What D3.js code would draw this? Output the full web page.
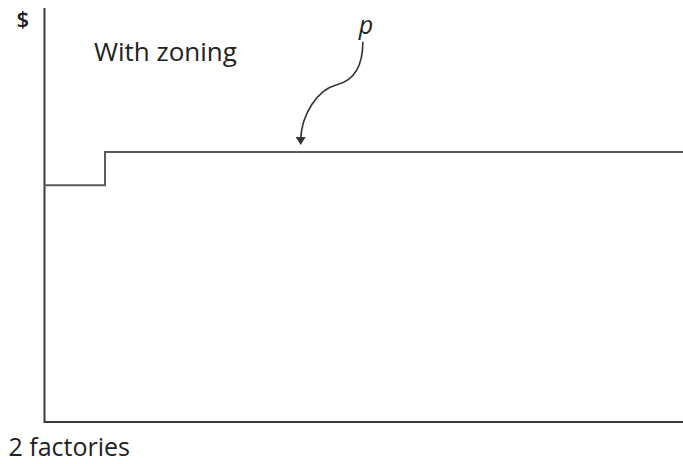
<!DOCTYPE html>
<meta charset="utf-8">
<style>
body { margin:0; background:#fff; font-family:"Open Sans", Arial, sans-serif; }
.axis { fill:none; stroke:#3a3a3a; stroke-width:2px; }
.step { fill:none; stroke:#5a5a5a; stroke-width:2px; }
.lbl { fill:#222; }
</style>
<body>
<div id="chart"></div>
<script src="https://d3js.org/d3.v7.min.js"></script>
<script>
// step curve: number of factories vs price level
var stepX = [0, 1, 1, 10.55];
var stepY = [5.72, 5.72, 6.52, 6.52];
// annotation "p" points at the flat part of the curve
var arrowAt = {x: 4.2, y: 6.52};
var pLabelAt = {x: 5.31, y: 9.38};

var W = 683, H = 464;
var margin = {top: 8, right: 0, bottom: 42, left: 44.5};
var width = W - margin.left - margin.right,
    height = H - margin.top - margin.bottom;

var x = d3.scaleLinear().domain([0, 10.55]).range([0, width]);
var y = d3.scaleLinear().domain([0, 10]).range([height, 0]);

var svg = d3.select("#chart").append("svg")
    .attr("width", W).attr("height", H)
  .append("g")
    .attr("transform", "translate(" + margin.left + "," + margin.top + ")");

// axes as plain lines
svg.append("path")
    .attr("class", "axis")
    .attr("d", "M" + x(0) + "," + y(10) + "V" + y(0) + "H" + x(10.55));

var pts = stepX.map(function(d, i) { return [x(d), y(stepY[i])]; });
svg.append("path")
    .attr("class", "step")
    .attr("d", d3.line()(pts));

// labels
svg.append("text").attr("class", "lbl")
    .attr("x", -28).attr("y", 19)
    .style("font-size", "22px").style("font-weight", "600")
    .text("$");
svg.append("text").attr("class", "lbl")
    .attr("x", 49.5).attr("y", 53)
    .style("font-size", "26px")
    .text("With zoning");
svg.append("text").attr("class", "lbl")
    .attr("x", -36).attr("y", 448)
    .style("font-size", "25px")
    .text("2 factories");

// p label + curvy arrow
var px = x(pLabelAt.x), py = y(pLabelAt.y);
svg.append("text").attr("class", "lbl")
    .attr("x", px).attr("y", py)
    .attr("text-anchor", "middle")
    .style("font-size", "25px").style("font-style", "italic")
    .text("p");

var ax = x(arrowAt.x) + 2, ay = y(arrowAt.y) - 9;
var sx = px - 3, sy = py + 8;
svg.append("path")
    .attr("fill", "none").attr("stroke", "#333").attr("stroke-width", 1.6)
    .attr("d", "M" + sx + "," + sy +
      "C" + sx + "," + (sy + 26) + " " + (sx - 10) + "," + (sy + 39) + " " + (sx - 26) + "," + (sy + 43) +
      "C" + (sx - 46) + "," + (sy + 48) + " " + (ax + 1) + "," + (ay - 28) + " " + ax + "," + (ay - 4));
svg.append("path")
    .attr("fill", "#333")
    .attr("d", "M" + (ax - 5) + "," + (ay - 6) + "L" + (ax + 5) + "," + (ay - 6) + "L" + ax + "," + (ay + 2) + "Z");
</script>
</body>
